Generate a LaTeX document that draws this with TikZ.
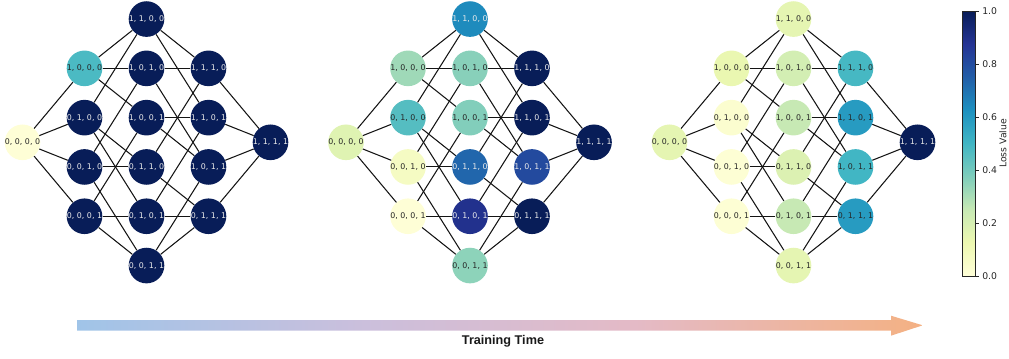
\documentclass[tikz,border=0pt]{standalone}
\usepackage{fontspec}
\setmainfont{DejaVu Sans}
\newfontfamily\timefont{Liberation Sans}
\usepackage{xcolor}
\usepackage{tikz}
\usetikzlibrary{calc}
\definecolor{cm0}{HTML}{FFFFD9}
\definecolor{cm1}{HTML}{EDF8B1}
\definecolor{cm2}{HTML}{C7E9B4}
\definecolor{cm3}{HTML}{7FCDBB}
\definecolor{cm4}{HTML}{41B6C4}
\definecolor{cm5}{HTML}{1D91C0}
\definecolor{cm6}{HTML}{225EA8}
\definecolor{cm7}{HTML}{253494}
\definecolor{cm8}{HTML}{081D58}
\definecolor{labdark}{HTML}{262626}
\definecolor{edgecol}{HTML}{141414}
\definecolor{tblue}{HTML}{A0C4E8}
\definecolor{tlav}{HTML}{CBBFDC}
\definecolor{tpink}{HTML}{E4BAC6}
\definecolor{torange}{HTML}{F4B183}
\pgfdeclareverticalshading{lossbar}{100bp}{color(0bp)=(cm0); color(25bp)=(cm0); color(31.25bp)=(cm1); color(37.5bp)=(cm2); color(43.75bp)=(cm3); color(50bp)=(cm4); color(56.25bp)=(cm5); color(62.5bp)=(cm6); color(68.75bp)=(cm7); color(75bp)=(cm8); color(100bp)=(cm8)}
\pgfdeclarehorizontalshading{timebar}{100bp}{color(0bp)=(tblue); color(25bp)=(tblue); color(42bp)=(tlav); color(58bp)=(tpink); color(75bp)=(torange); color(100bp)=(torange)}
\tikzset{
  latnode/.style={circle, inner sep=0pt, minimum size=0.865cm, font=\fontsize{5.6}{6.7}\selectfont},
  edge/.style={draw=edgecol, line width=0.75pt},
  cbframe/.style={draw=labdark, line width=0.5pt},
  cblab/.style={text=labdark, font=\fontsize{6.6}{8}\selectfont, inner sep=0pt},
  timelab/.style={text=black!90, font=\timefont\bfseries\fontsize{9}{11}\selectfont},
}
% loss value -> YlGnBu fill and label colour
\newcommand\lossfill[1]{%
  \pgfmathtruncatemacro\seg{min(floor(#1*8),7)}%
  \pgfmathtruncatemacro\segn{\seg+1}%
  \pgfmathtruncatemacro\pct{round((#1*8-\seg)*100)}%
  \colorlet{nodefill}{cm\segn!\pct!cm\seg}%
  \pgfmathtruncatemacro\dark{#1>0.6}%
  \ifnum\dark=1 \colorlet{nodetext}{white!92!black}\else\colorlet{nodetext}{labdark}\fi}
\def\latnodes{0000/{0, 0, 0, 0}/-2/0, 1000/{1, 0, 0, 0}/-1/-1.5, 0100/{0, 1, 0, 0}/-1/-0.5,
  0010/{0, 0, 1, 0}/-1/0.5, 0001/{0, 0, 0, 1}/-1/1.5, 1100/{1, 1, 0, 0}/0/-2.5,
  1010/{1, 0, 1, 0}/0/-1.5, 1001/{1, 0, 0, 1}/0/-0.5, 0110/{0, 1, 1, 0}/0/0.5,
  0101/{0, 1, 0, 1}/0/1.5, 0011/{0, 0, 1, 1}/0/2.5, 1110/{1, 1, 1, 0}/1/-1.5,
  1101/{1, 1, 0, 1}/1/-0.5, 1011/{1, 0, 1, 1}/1/0.5, 0111/{0, 1, 1, 1}/1/1.5,
  1111/{1, 1, 1, 1}/2/0}
\def\latedges{0000/1000, 0000/0100, 0000/0010, 0000/0001, 1000/1100, 1000/1010, 1000/1001,
  0100/1100, 0100/0110, 0100/0101, 0010/1010, 0010/0110, 0010/0011, 0001/1001, 0001/0101,
  0001/0011, 1100/1110, 1100/1101, 1010/1110, 1010/1011, 1001/1101, 1001/1011, 0110/1110,
  0110/0111, 0101/1101, 0101/0111, 0011/1011, 0011/0111, 1110/1111, 1101/1111, 1011/1111,
  0111/1111}
\newcommand\lattice[3]{%
  \foreach \n/\lab/\c/\r [count=\i from 0] in \latnodes {
    \pgfmathsetmacro\v{{#3}[\i]}
    \lossfill{\v}
    \node[latnode, fill=nodefill, text=nodetext] (#1-\n) at ({#2+62*\c}, {142.3+49.3*\r}) {\lab};
  }
  \foreach \a/\b in \latedges
    \draw[edge] (#1-\a) -- (#1-\b);
}

\begin{document}
\begin{tikzpicture}[x=0.025cm, y=-0.025cm]
  \useasboundingbox (0,0) rectangle (1009,358);

  \lattice{pa}{146.5}{0.01,0.48,1,1,1,1,1,1,1,1,1,1,1,1,1,1}
  \lattice{pb}{470}{0.17,0.32,0.46,0.07,0.01,0.64,0.36,0.37,0.73,0.89,0.35,1,1,0.81,1,1}
  \lattice{pc}{793.5}{0.15,0.135,0.03,0.015,0.015,0.15,0.21,0.25,0.18,0.25,0.15,0.49,0.59,0.5,0.59,1}

  \shade[shading=lossbar] (962,11) rectangle (975,276);
  \draw[cbframe] (962,11) rectangle (975,276);
  \foreach \t in {0.0,0.2,0.4,0.6,0.8,1.0} {
    \draw[cbframe] (975,{276-265*\t}) -- (978.5,{276-265*\t});
    \node[cblab, anchor=west] (tick\t) at (982,{276-265*\t}) {\t};
  }
  \node[cblab, rotate=90] (losslab) at (1003,143.5) {Loss Value};

  \shade[shading=timebar]
    (77,320) -- (891,320) -- (891,315.7) -- (922.7,325.3) -- (891,335.7) -- (891,330.7) -- (77,330.7) -- cycle;
  \node[timelab] (timelab) at (503,341) {Training Time};
\end{tikzpicture}
\end{document}
